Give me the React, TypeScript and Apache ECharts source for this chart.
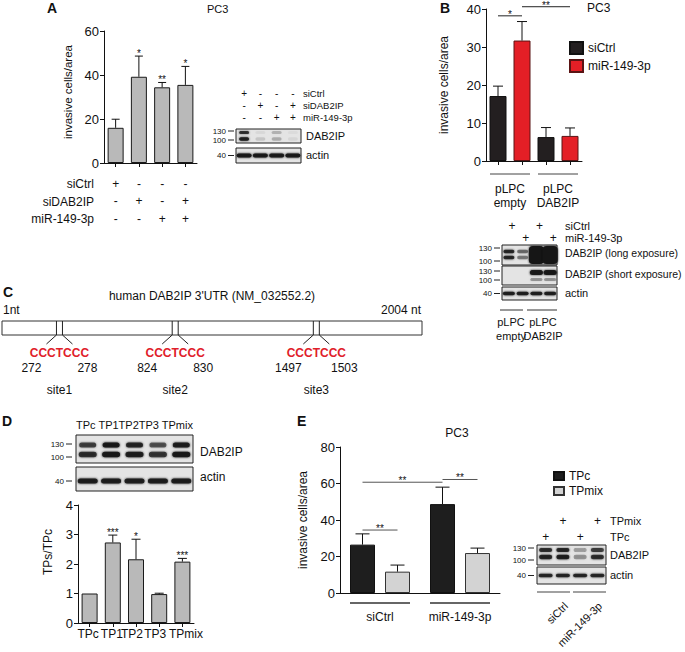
import React, { useEffect, useRef } from "react";
import * as echarts from "echarts";

const FONT = "'Liberation Sans', Arial, Helvetica, sans-serif";
const INK = "#111";

// ---------------- Panel A ----------------
const aCats = ["a1", "a2", "a3", "a4"];
const aSiCtrl = ["+", "-", "-", "-"];
const aSiDAB2IP = ["-", "+", "-", "+"];
const aMiR = ["-", "-", "+", "+"];
const aRowLabels = ["siCtrl", "siDAB2IP", "miR-149-3p"];
const aValues = [16.0, 39.2, 34.4, 35.5];
const aErrors = [3.9, 9.4, 2.2, 8.4];
const aStars = ["", "*", "**", "*"];
const aBlot130 = [0.8, 0.05, 0.2, 0.04];
const aBlot100 = [0.9, 0.12, 0.22, 0.06];
const aBlotActin = [0.95, 0.95, 0.95, 0.95];

// ---------------- Panel B ----------------
const bGroups = ["pLPC\nempty", "pLPC\nDAB2IP"];
const bSeriesNames = ["siCtrl", "miR-149-3p"];
const bSiCtrl = [17.1, 6.3];
const bSiCtrlErr = [2.6, 2.5];
const bMiR = [31.7, 6.6];
const bMiRErr = [5.0, 2.1];
const bBracketFrom = [[0, 0], [0, 1]];
const bBracketTo = [[0, 1], [1, 1]];
const bBracketY = [38.2, 40.6];
const bBracketText = ["*", "**"];
const bBlotSiCtrl = ["+", "", "+", ""];
const bBlotMiR = ["", "+", "", "+"];
const bLong130 = [0.85, 0.5, 1, 1];
const bLong100 = [0.85, 0.45, 1, 1];
const bShort130 = [0, 0, 0.95, 0.95];
const bShort100 = [0, 0, 0.35, 0.35];
const bActin = [0.9, 0.9, 0.9, 0.9];

// ---------------- Panel C ----------------
const utrLength = 2004;
const siteStart = [272, 824, 1497];
const siteEnd = [278, 830, 1503];
const siteNames = ["site1", "site2", "site3"];
const siteSeq = "CCCTCCC";

// ---------------- Panel D ----------------
const dCats = ["TPc", "TP1", "TP2", "TP3", "TPmix"];
const dValues = [1.0, 2.73, 2.16, 0.98, 2.08];
const dErrors = [0, 0.25, 0.68, 0.03, 0.11];
const dStars = ["", "***", "*", "", "***"];
const dBlot130 = [0.7, 0.95, 0.85, 0.6, 0.9];
const dBlot100 = [0.8, 0.95, 0.9, 0.75, 0.95];
const dActin = [0.9, 0.9, 0.9, 0.9, 0.9];

// ---------------- Panel E ----------------
const eGroups = ["siCtrl", "miR-149-3p"];
const eSeriesNames = ["TPc", "TPmix"];
const eTPc = [26.5, 48.7];
const eTPcErr = [5.9, 9.3];
const eTPmix = [11.7, 21.9];
const eTPmixErr = [3.6, 2.7];
const eBracketFrom = [[0, 0], [0, 0], [1, 0]];
const eBracketTo = [[0, 1], [1, 0], [1, 1]];
const eBracketY = [34.5, 60.7, 62.2];
const eBracketText = ["**", "**", "**"];
const eBlotTPmix = ["", "+", "", "+"];
const eBlotTPc = ["+", "", "+", ""];
const eBlot130 = [0.8, 0.85, 0.3, 0.7];
const eBlot100 = [0.85, 0.9, 0.35, 0.8];
const eActin = [0.85, 0.85, 0.85, 0.85];
const eBlotGroups = ["siCtrl", "miR-149-3p"];

// ---------------- helpers ----------------
function txt(text: string, x: number, y: number, o: any = {}) {
  const align = o.align || "left";
  const valign = o.valign || "middle";
  return {
    type: "text",
    x,
    y,
    rotation: o.rotation || 0,
    silent: true,
    style: {
      text,
      fill: o.color || INK,
      fontSize: o.size || 12,
      fontFamily: FONT,
      fontWeight: o.bold ? "bold" : "normal",
      align,
      verticalAlign: valign,
      textAlign: align,
      textVerticalAlign: valign,
    },
  };
}
function ln(x1: number, y1: number, x2: number, y2: number, color = INK, w = 1) {
  return { type: "line", silent: true, shape: { x1, y1, x2, y2 }, style: { stroke: color, lineWidth: w } };
}
function box(x: number, y: number, w: number, h: number) {
  return {
    type: "rect",
    silent: true,
    shape: { x, y, width: w, height: h },
    style: { fill: "#e4e4e4", stroke: "#222", lineWidth: 1 },
  };
}
function band(cx: number, cy: number, w: number, h: number, a: number, r?: number) {
  if (a <= 0) return null;
  const c = `rgba(20,20,20,${a})`;
  return {
    type: "rect",
    silent: true,
    shape: { x: cx - w / 2, y: cy - h / 2, width: w, height: h, r: r === undefined ? h / 2 : r },
    style: { fill: c, shadowBlur: 2, shadowColor: c },
  };
}
function lanes(x: number, w: number, n: number) {
  const lw = w / n;
  return Array.from({ length: n }, (_, i) => x + lw * (i + 0.5));
}
function marker(label: string, xRight: number, y: number) {
  return [txt(label, xRight - 9, y, { size: 8, align: "right" }), ln(xRight - 7, y, xRight - 1, y, "#222", 1)];
}

function starText(text: string, x: number, y: number) {
  return {
    type: "text",
    style: { text, x, y, fill: INK, fontSize: 10, fontFamily: FONT, align: "center", verticalAlign: "middle" },
  };
}

function errSeries(xAxisIndex: number, yAxisIndex: number, data: number[][], off: number, capW: number, stars?: string[]) {
  return {
    type: "custom",
    xAxisIndex,
    yAxisIndex,
    data,
    clip: false,
    silent: true,
    z: 5,
    encode: { x: 0, y: 1 },
    renderItem: (params: any, api: any) => {
      const g = api.value(0);
      const v = api.value(1);
      const e = api.value(2);
      const s = api.value(3);
      const p0 = api.coord([g, v]);
      const p1 = api.coord([g, v + e]);
      const x = p0[0] + (off ? (s ? off : -off) : 0);
      const children: any[] = [];
      if (e > 0) {
        children.push({ type: "line", shape: { x1: x, y1: p0[1], x2: x, y2: p1[1] }, style: { stroke: INK, lineWidth: 1 } });
        children.push({ type: "line", shape: { x1: x - capW / 2, y1: p1[1], x2: x + capW / 2, y2: p1[1] }, style: { stroke: INK, lineWidth: 1 } });
      }
      const st = stars ? stars[params.dataIndex] : "";
      if (st) children.push(starText(st, x, p1[1] - 3));
      return { type: "group", children };
    },
  };
}

function bracketSeries(xAxisIndex: number, yAxisIndex: number, from: number[][], to: number[][], ys: number[], texts: string[], off: number, color: string) {
  const data = from.map((f, i) => [f[0], ys[i], to[i][0], f[1], to[i][1]]);
  return {
    type: "custom",
    xAxisIndex,
    yAxisIndex,
    data,
    clip: false,
    silent: true,
    z: 5,
    encode: { x: [0, 2], y: 1 },
    renderItem: (params: any, api: any) => {
      const y = api.value(1);
      const a = api.coord([api.value(0), y]);
      const b = api.coord([api.value(2), y]);
      const x1 = a[0] + (api.value(3) ? off : -off);
      const x2 = b[0] + (api.value(4) ? off : -off);
      return {
        type: "group",
        children: [
          { type: "line", shape: { x1, y1: a[1], x2, y2: a[1] }, style: { stroke: color, lineWidth: 1 } },
          starText(texts[params.dataIndex], (x1 + x2) / 2, a[1] - 1.5),
        ],
      };
    },
  };
}

function underlineSeries(xAxisIndex: number, yAxisIndex: number, n: number, half: number, drop: number, color: string, w: number) {
  return {
    type: "custom",
    xAxisIndex,
    yAxisIndex,
    data: Array.from({ length: n }, (_, i) => [i, 0]),
    clip: false,
    silent: true,
    encode: { x: 0, y: 1 },
    renderItem: (params: any, api: any) => {
      const p = api.coord([api.value(0), 0]);
      return { type: "line", shape: { x1: p[0] - half, y1: p[1] + drop, x2: p[0] + half, y2: p[1] + drop }, style: { stroke: color, lineWidth: w } };
    },
  };
}

function yAxis(gridIndex: number, max: number, interval: number, name: string, nameGap: number, nameSize: number, shiftUp = 0) {
  return {
    type: "value",
    gridIndex,
    min: 0,
    max,
    interval,
    name,
    nameLocation: "middle",
    nameGap,
    nameTextStyle: { fontSize: nameSize, color: INK, fontFamily: FONT, padding: [0, 0, 0, shiftUp * 2] },
    axisLine: { show: true, lineStyle: { color: INK, width: 1 } },
    axisTick: { show: true, length: 4, lineStyle: { color: INK } },
    axisLabel: { fontSize: 13, color: INK, margin: 5, fontFamily: FONT },
    splitLine: { show: false },
  };
}

function buildOption() {
  const graphic: any[] = [];
  const push = (...els: any[]) => els.forEach((e) => e && graphic.push(e));

  // panel letters & titles
  push(txt("A", 47, 8, { bold: true, size: 14 }));
  push(txt("B", 440, 8, { bold: true, size: 14 }));
  push(txt("C", 3, 292, { bold: true, size: 14 }));
  push(txt("D", 2, 421, { bold: true, size: 14 }));
  push(txt("E", 297, 421, { bold: true, size: 14 }));
  push(txt("PC3", 207, 9, { size: 11 }));
  push(txt("PC3", 587, 8, { size: 12 }));
  push(txt("PC3", 457, 433, { size: 12, align: "center" }));

  // Panel A row labels
  const aRowY = [184, 202, 219];
  aRowLabels.forEach((l, i) => push(txt(l, 94, aRowY[i], { align: "right" })));

  // Panel A blot
  {
    const bx = 236, bw = 65;
    const lx = lanes(bx, bw, 4);
    const rows = [aSiCtrl, aSiDAB2IP, aMiR];
    const ry = [93, 105, 117];
    rows.forEach((r, j) => {
      r.forEach((s, i) => push(txt(s, lx[i], ry[j], { size: 10, align: "center" })));
      push(txt(aRowLabels[j], 303, ry[j], { size: 9.5 }));
    });
    push(box(bx, 129, bw, 14), box(bx, 148, bw, 15));
    lx.forEach((x, i) => {
      push(band(x, 132.5, 10, 3, aBlot130[i]), band(x, 139, 10, 3.5, aBlot100[i]), band(x, 155.5, 15, 4, aBlotActin[i]));
    });
    push(...marker("130", 235, 131), ...marker("100", 235, 140), ...marker("40", 235, 155.5));
    push(txt("DAB2IP", 306, 136, { size: 11 }), txt("actin", 306, 155, { size: 11 }));
  }

  // Panel B blot
  {
    const bx = 502, bw = 55;
    const lx = lanes(bx, bw, 4);
    lx.forEach((x, i) => {
      push(txt(bBlotSiCtrl[i], x + 3, 226, { size: 12, align: "center" }));
      push(txt(bBlotMiR[i], x + 3, 238, { size: 12, align: "center" }));
    });
    push(txt("siCtrl", 565, 226, { size: 11 }), txt("miR-149-3p", 565, 238, { size: 11 }));
    push(box(bx, 245, bw, 20), box(bx, 266, bw, 19), box(bx, 287, bw, 13));
    lx.forEach((x, i) => {
      if (i < 2) {
        push(band(x, 251.5, 11, 3.5, bLong130[i]), band(x, 257.5, 11, 3.5, bLong100[i]));
      } else {
        push(band(x, 255, 15, 18, bLong130[i], 4));
      }
      push(band(x, 272.5, 13, 5, bShort130[i]), band(x, 279.5, 12, 3, bShort100[i]));
      push(band(x, 293.5, 12, 3.5, bActin[i]));
    });
    push(...marker("130", 501, 248), ...marker("100", 501, 261), ...marker("130", 501, 271), ...marker("100", 501, 280), ...marker("40", 501, 293.5));
    push(txt("DAB2IP (long exposure)", 565, 253, { size: 10.5 }));
    push(txt("DAB2IP (short exposure)", 565, 274, { size: 10.5 }));
    push(txt("actin", 565, 293, { size: 11 }));
    push(ln(500, 310, 523, 310, "#333"), ln(527, 310, 557, 310, "#333"));
    push(txt("pLPC", 511, 322, { size: 11, align: "center" }), txt("empty", 511, 336, { size: 11, align: "center" }));
    push(txt("pLPC", 543, 322, { size: 11, align: "center" }), txt("DAB2IP", 543, 336, { size: 11, align: "center" }));
  }

  // Panel C texts
  push(txt("human DAB2IP 3'UTR (NM_032552.2)", 212, 296, { size: 12, align: "center" }));
  push(txt("1nt", 3, 310, { size: 12 }), txt(`${utrLength} nt`, 421, 310, { size: 12, align: "right" }));

  // Panel D blot
  {
    const bx = 76, bw = 117;
    const lx = lanes(bx, bw, 5);
    push(txt(dCats.map((c, i) => (i === 0 || i === 3 ? c + " " : c)).join(""), 76, 425, { size: 11 }));
    push(box(bx, 435, bw, 28), box(bx, 467, bw, 24));
    lx.forEach((x, i) => {
      push(band(x, 445, 17, 5, dBlot130[i]), band(x, 454.5, 18, 5.5, dBlot100[i]), band(x, 481, 20, 5, dActin[i]));
    });
    push(...marker("130", 73, 444), ...marker("100", 73, 457), ...marker("40", 73, 481));
    push(txt("DAB2IP", 200, 452, { size: 12 }), txt("actin", 200, 477, { size: 12 }));
  }

  // Panel E blot
  {
    const bx = 537, bw = 69;
    const lx = lanes(bx, bw, 4);
    lx.forEach((x, i) => {
      push(txt(eBlotTPmix[i], x, 521, { size: 12, align: "center" }));
      push(txt(eBlotTPc[i], x, 537, { size: 12, align: "center" }));
    });
    push(txt("TPmix", 610, 521, { size: 11 }), txt("TPc", 610, 537, { size: 11 }));
    push(box(bx, 545, bw, 20), box(bx, 567, bw, 17));
    lx.forEach((x, i) => {
      push(band(x, 550, 13, 4, eBlot130[i]), band(x, 557, 13, 4.5, eBlot100[i]), band(x, 575.5, 14, 3.5, eActin[i]));
    });
    push(...marker("130", 535, 548), ...marker("100", 535, 560), ...marker("40", 535, 575.5));
    push(txt("DAB2IP", 610, 555, { size: 11 }), txt("actin", 610, 575, { size: 11 }));
    push(ln(537, 592, 570, 592, "#444", 1.2), ln(573, 592, 606, 592, "#444", 1.2));
    push(txt(eBlotGroups[0], 566, 604, { size: 11, align: "right", rotation: Math.PI / 4 }));
    push(txt(eBlotGroups[1], 600, 604, { size: 11, align: "right", rotation: Math.PI / 4 }));
  }

  // data for custom series
  const aErrData = aValues.map((v, i) => [i, v, aErrors[i], 0]);
  const dErrData = dValues.map((v, i) => [i, v, dErrors[i], 0]);
  const bBW = 17, bGap = 7, bOff = (bBW + bGap) / 2;
  const eBW = 25, eGap = 10, eOff = (eBW + eGap) / 2;
  const bErrData: number[][] = [];
  bGroups.forEach((_, g) => {
    bErrData.push([g, bSiCtrl[g], bSiCtrlErr[g], 0]);
    bErrData.push([g, bMiR[g], bMiRErr[g], 1]);
  });
  const eErrData: number[][] = [];
  eGroups.forEach((_, g) => {
    eErrData.push([g, eTPc[g], eTPcErr[g], 0]);
    eErrData.push([g, eTPmix[g], eTPmixErr[g], 1]);
  });

  const xLine = { show: true, lineStyle: { color: INK, width: 1 } };
  const dLab = (pad: number[]) => ({ fontSize: 12, color: INK, fontFamily: FONT, padding: pad });

  return {
    animation: false,
    backgroundColor: "#fff",
    textStyle: { fontFamily: FONT, color: INK },
    grid: [
      { left: 104, top: 31, width: 93, height: 132 },
      { left: 486, top: 9, width: 96, height: 152 },
      { left: 78, top: 505, width: 116, height: 118 },
      { left: 340, top: 447, width: 160, height: 146 },
      { left: 2, top: 321, width: 420, height: 14 },
    ],
    legend: [
      {
        data: bSeriesNames,
        left: 569,
        top: 41,
        padding: 0,
        orient: "vertical",
        itemWidth: 13,
        itemHeight: 12,
        itemGap: 4,
        icon: "rect",
        selectedMode: false,
        textStyle: { fontSize: 12, color: INK, fontFamily: FONT },
      },
      {
        data: eSeriesNames,
        left: 553,
        top: 470,
        padding: 0,
        orient: "vertical",
        itemWidth: 10,
        itemHeight: 8,
        itemGap: 3,
        icon: "rect",
        selectedMode: false,
        textStyle: { fontSize: 12, color: INK, fontFamily: FONT },
      },
    ],
    xAxis: [
      {
        type: "category",
        gridIndex: 0,
        data: aCats,
        axisLine: xLine,
        axisTick: { show: true, alignWithLabel: true, length: 4, lineStyle: { color: INK } },
        axisLabel: {
          interval: 0,
          fontSize: 12,
          color: INK,
          margin: 12,
          lineHeight: 17.5,
          fontFamily: FONT,
          formatter: (_v: string, i: number) => `${aSiCtrl[i]}\n${aSiDAB2IP[i]}\n${aMiR[i]}`,
        },
      },
      {
        type: "category",
        gridIndex: 1,
        data: bGroups,
        axisLine: xLine,
        axisTick: { show: false },
        axisLabel: { interval: 0, fontSize: 12, color: INK, margin: 21, lineHeight: 14, fontFamily: FONT },
      },
      {
        type: "category",
        gridIndex: 1,
        position: "bottom",
        data: ["", "", "", ""],
        axisLine: { show: false },
        axisTick: { show: true, alignWithLabel: true, length: 4, lineStyle: { color: INK } },
        axisLabel: { show: false },
      },
      {
        type: "category",
        gridIndex: 2,
        data: dCats,
        axisLine: xLine,
        axisTick: { show: true, alignWithLabel: true, length: 4, lineStyle: { color: INK } },
        axisLabel: {
          interval: 0,
          hideOverlap: false,
          fontSize: 12,
          color: INK,
          margin: 5,
          fontFamily: FONT,
          formatter: (v: string, i: number) => `{l${i}|${v}}`,
          rich: {
            l0: dLab([0, 3, 0, 0]),
            l1: dLab([0, 2, 0, 0]),
            l2: dLab([0, 8, 0, 0]),
            l3: dLab([0, 8, 0, 0]),
            l4: dLab([0, 0, 0, 7]),
          },
        },
      },
      {
        type: "category",
        gridIndex: 3,
        data: eGroups,
        axisLine: xLine,
        axisTick: { show: false },
        axisLabel: { interval: 0, fontSize: 12, color: INK, margin: 18, fontFamily: FONT },
      },
      { type: "value", gridIndex: 4, min: 1, max: utrLength, show: false },
    ],
    yAxis: [
      yAxis(0, 60, 20, "invasive cells/area", 30, 11.5, 5),
      yAxis(1, 40, 10, "invasive cells/area", 36, 12),
      yAxis(2, 4, 1, "TPs/TPc", 24, 12, 12),
      yAxis(3, 80, 20, "invasive cells/area", 31, 12),
      { type: "value", gridIndex: 4, min: 0, max: 1, show: false },
    ],
    graphic: { elements: graphic },
    series: [
      // A
      {
        type: "bar",
        xAxisIndex: 0,
        yAxisIndex: 0,
        data: aValues,
        barWidth: 16,
        itemStyle: { color: "#b9b9b9", borderColor: "#1a1a1a", borderWidth: 1 },
      },
      errSeries(0, 0, aErrData, 0, 8, aStars),
      // B
      {
        type: "bar",
        name: bSeriesNames[0],
        xAxisIndex: 1,
        yAxisIndex: 1,
        data: bSiCtrl,
        barWidth: bBW,
        barGap: `${(bGap / bBW) * 100}%`,
        itemStyle: { color: "#231f20", borderColor: "#111", borderWidth: 1 },
      },
      {
        type: "bar",
        name: bSeriesNames[1],
        xAxisIndex: 1,
        yAxisIndex: 1,
        data: bMiR,
        barWidth: bBW,
        barGap: `${(bGap / bBW) * 100}%`,
        itemStyle: { color: "#e41f26", borderColor: "#5a1414", borderWidth: 1 },
      },
      errSeries(1, 1, bErrData, bOff, 10),
      bracketSeries(1, 1, bBracketFrom, bBracketTo, bBracketY, bBracketText, bOff, "#222"),
      underlineSeries(1, 1, bGroups.length, 20, 13, "#444", 1),
      // D
      {
        type: "bar",
        xAxisIndex: 3,
        yAxisIndex: 2,
        data: dValues,
        barWidth: 16,
        itemStyle: { color: "#b9b9b9", borderColor: "#1a1a1a", borderWidth: 1 },
      },
      errSeries(3, 2, dErrData, 0, 9, dStars),
      // E
      {
        type: "bar",
        name: eSeriesNames[0],
        xAxisIndex: 4,
        yAxisIndex: 3,
        data: eTPc,
        barWidth: eBW,
        barGap: `${(eGap / eBW) * 100}%`,
        itemStyle: { color: "#1e1e1e", borderColor: "#111", borderWidth: 1 },
      },
      {
        type: "bar",
        name: eSeriesNames[1],
        xAxisIndex: 4,
        yAxisIndex: 3,
        data: eTPmix,
        barWidth: eBW,
        barGap: `${(eGap / eBW) * 100}%`,
        itemStyle: { color: "#d3d3d3", borderColor: "#333", borderWidth: 1 },
      },
      errSeries(4, 3, eErrData, eOff, 14),
      bracketSeries(4, 3, eBracketFrom, eBracketTo, eBracketY, eBracketText, eOff, "#555"),
      underlineSeries(4, 3, eGroups.length, 30, 10, "#666", 2),
      // C : UTR bar and sites
      {
        type: "custom",
        xAxisIndex: 5,
        yAxisIndex: 4,
        data: [[1, utrLength]],
        silent: true,
        clip: false,
        encode: { x: [0, 1] },
        renderItem: (_p: any, api: any) => {
          const a = api.coord([api.value(0), 1]);
          const b = api.coord([api.value(1), 0]);
          return { type: "rect", shape: { x: a[0], y: a[1], width: b[0] - a[0], height: b[1] - a[1] }, style: { fill: "#fff", stroke: "#333", lineWidth: 1 } };
        },
      },
      {
        type: "custom",
        xAxisIndex: 5,
        yAxisIndex: 4,
        data: siteStart.map((s, i) => [s, siteEnd[i]]),
        silent: true,
        clip: false,
        z: 3,
        encode: { x: [0, 1] },
        renderItem: (p: any, api: any) => {
          const s = api.value(0);
          const e = api.value(1);
          const top = api.coord([(s + e) / 2, 1]);
          const bot = api.coord([(s + e) / 2, 0]);
          const cx = top[0];
          const y0 = top[1];
          const y1 = bot[1];
          const st = { stroke: "#222", lineWidth: 1 };
          const tx = (text: string, x: number, y: number, extra: any = {}) => ({
            type: "text",
            style: { text, x, y, fill: INK, fontSize: 12, fontFamily: FONT, align: "center", verticalAlign: "middle", ...extra },
          });
          return {
            type: "group",
            children: [
              { type: "line", shape: { x1: cx - 3, y1: y0, x2: cx - 3, y2: y1 }, style: st },
              { type: "line", shape: { x1: cx + 3, y1: y0, x2: cx + 3, y2: y1 }, style: st },
              { type: "line", shape: { x1: cx - 3, y1: y1, x2: cx - 13, y2: y1 + 9 }, style: st },
              { type: "line", shape: { x1: cx + 3, y1: y1, x2: cx + 13, y2: y1 + 9 }, style: st },
              tx(siteSeq, cx, y1 + 18, { fill: "#e0202a", fontWeight: "bold" }),
              tx(String(s), cx - 28, y1 + 33),
              tx(String(e), cx + 28, y1 + 33),
              tx(siteNames[p.dataIndex], cx, y1 + 55),
            ],
          };
        },
      },
    ],
  };
}

export default function App() {
  const ref = useRef<HTMLDivElement>(null);
  useEffect(() => {
    if (!ref.current) return;
    const chart = echarts.init(ref.current, null, { renderer: "svg" });
    chart.setOption(buildOption() as any);
    return () => chart.dispose();
  }, []);
  return (
    <div
      ref={ref}
      style={{ position: "fixed", left: 0, top: 0, width: 685, height: 652, background: "#fff" }}
    />
  );
}
